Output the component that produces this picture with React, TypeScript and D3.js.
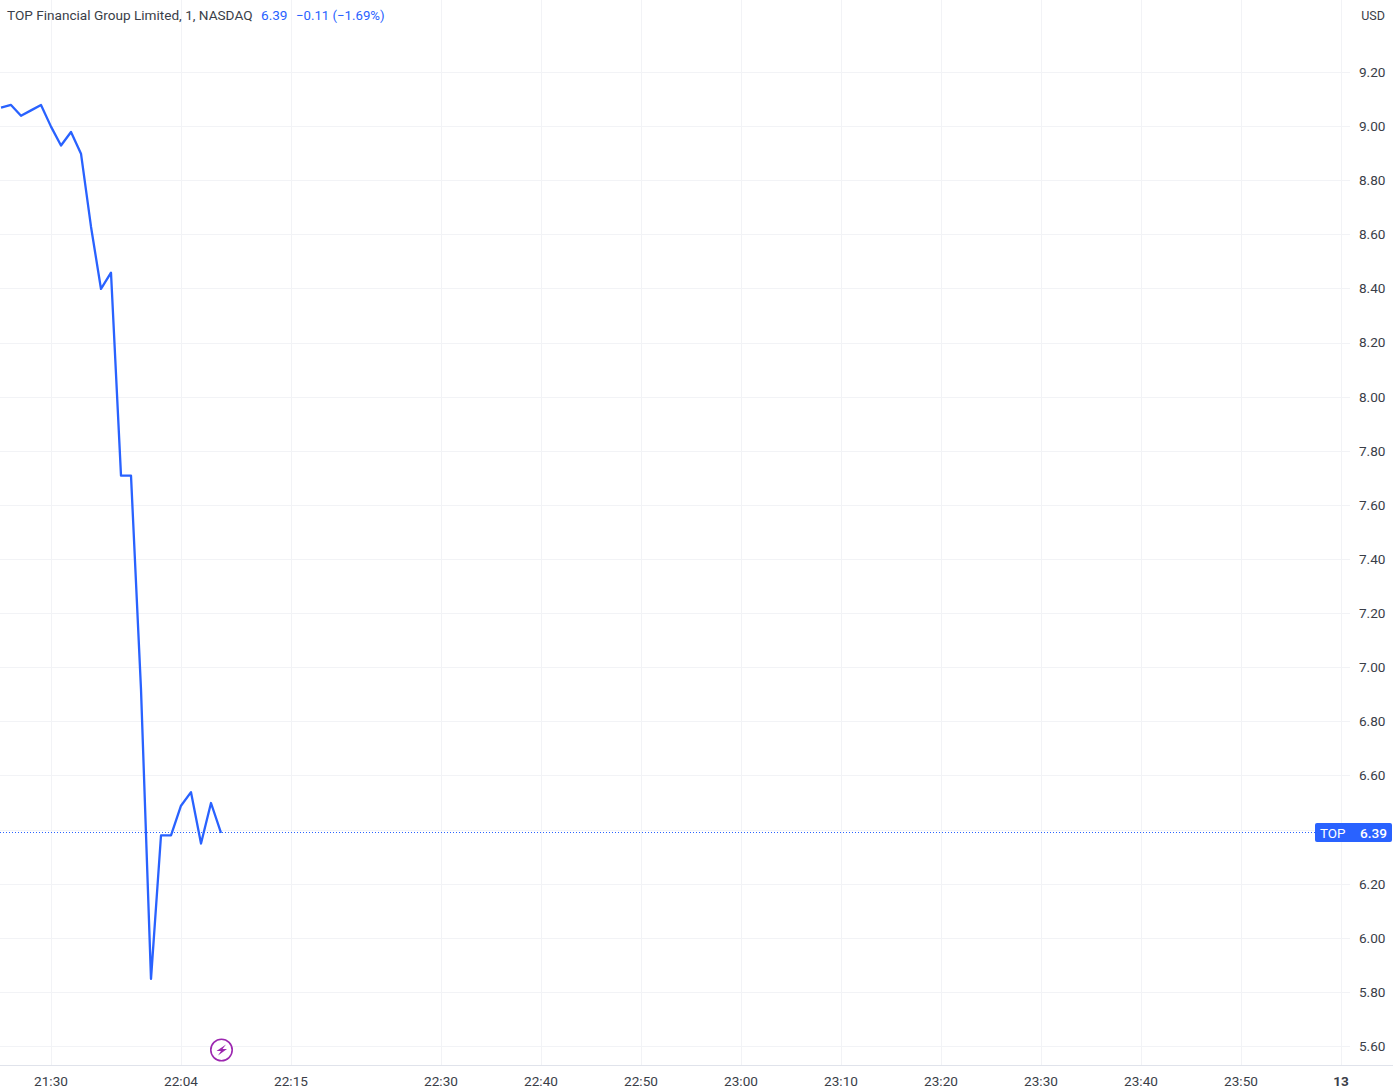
import React from "react";
import * as d3 from "d3";

const WIDTH = 1393;
const HEIGHT = 1091;

const prices = [9.07, 9.08, 9.04, 9.06, 9.08, 9.0, 8.93, 8.98, 8.9, 8.63, 8.4, 8.46, 7.71, 7.71, 6.92, 5.85, 6.38, 6.38, 6.49, 6.54, 6.35, 6.5, 6.39];
const priceTicks = [9.2, 9.0, 8.8, 8.6, 8.4, 8.2, 8.0, 7.8, 7.6, 7.4, 7.2, 7.0, 6.8, 6.6, 6.4, 6.2, 6.0, 5.8, 5.6];
const axisTicks = priceTicks.filter((t) => t !== 6.4);
const timeLabels = ["21:30", "22:04", "22:15", "22:30", "22:40", "22:50", "23:00", "23:10", "23:20", "23:30", "23:40", "23:50", "13"];
const timeBars = [5, 18, 29, 44, 54, 64, 74, 84, 94, 104, 114, 124, 134];
const lastPrice = 6.39;
const symbol = "TOP";
const legendTitle = "TOP Financial Group Limited, 1, NASDAQ";
const legendValue = "6.39";
const legendChange = "−0.11 (−1.69%)";
const currency = "USD";

const BLUE = "#2962ff";
const GRID = "#f2f3f6";
const AXIS = "#e0e3eb";
const TEXT = "#3a3e48";
const FONT = "Roboto, 'Liberation Sans', sans-serif";

export default function App() {
  const x = d3.scaleLinear().domain([0, 134]).range([1, 1341]);
  const y = d3.scaleLinear().domain([9.2, 5.6]).range([72.5, 1046.5]);
  const line = d3
    .line<number>()
    .x((_, i) => x(i))
    .y((d) => y(d));
  const py = Math.floor(y(lastPrice)) + 0.5;
  return (
    <svg
      width={WIDTH}
      height={HEIGHT}
      viewBox={`0 0 ${WIDTH} ${HEIGHT}`}
      style={{ position: "absolute", left: 0, top: 0, background: "#fff", display: "block" }}
      fontFamily={FONT}
    >
      {priceTicks.map((t) => (
        <line key={t} x1={0} x2={1350} y1={Math.floor(y(t)) + 0.5} y2={Math.floor(y(t)) + 0.5} stroke={GRID} />
      ))}
      {timeBars.map((b, i) => (
        <line key={timeLabels[i]} x1={Math.round(x(b)) + 0.5} x2={Math.round(x(b)) + 0.5} y1={0} y2={1065} stroke={GRID} />
      ))}
      <line x1={0} x2={1393} y1={1065.5} y2={1065.5} stroke={AXIS} />
      <line x1={0} x2={1315} y1={py} y2={py} stroke={BLUE} strokeDasharray="1 2" />
      <path d={line(prices) ?? ""} fill="none" stroke={BLUE} strokeWidth={2.3} strokeLinejoin="round" />

      <g fontSize={13.6} fill={TEXT}>
        {axisTicks.map((t) => (
          <text key={t} x={1385.5} y={y(t) - 0.5} dy="0.36em" textAnchor="end">
            {t.toFixed(2)}
          </text>
        ))}
        <text x={1385} y={15} dy="0.36em" textAnchor="end" fontSize={12.5}>{currency}</text>
        {timeLabels.map((l, i) => (
          <text key={l} x={x(timeBars[i])} y={1081} dy="0.36em" textAnchor="middle" fontWeight={l === "13" ? 700 : 400}>
            {l}
          </text>
        ))}
        <text x={7} y={15} dy="0.36em">{legendTitle}</text>
        <text x={261} y={15} dy="0.36em" fill={BLUE}>{legendValue}</text>
        <text x={296} y={15} dy="0.36em" fill={BLUE} fontSize={13.2}>{legendChange}</text>
      </g>

      <rect x={1315} y={823} width={77} height={19} rx={2} fill={BLUE} />
      <text x={1320} y={833} dy="0.36em" fontSize={13.4} fill="#fff">{symbol}</text>
      <text x={1387} y={833} dy="0.36em" fontSize={13.6} fontWeight={500} fill="#fff" textAnchor="end">{lastPrice.toFixed(2)}</text>

      <circle cx={221.5} cy={1050} r={10.7} fill="#fff" stroke="#9c27b0" strokeWidth={1.6} />
      <path d="M226 1044.5 L216.5 1051 L221 1051 L218 1055.5 L227 1049 L222.5 1049 Z" fill="#9c27b0" />
    </svg>
  );
}
